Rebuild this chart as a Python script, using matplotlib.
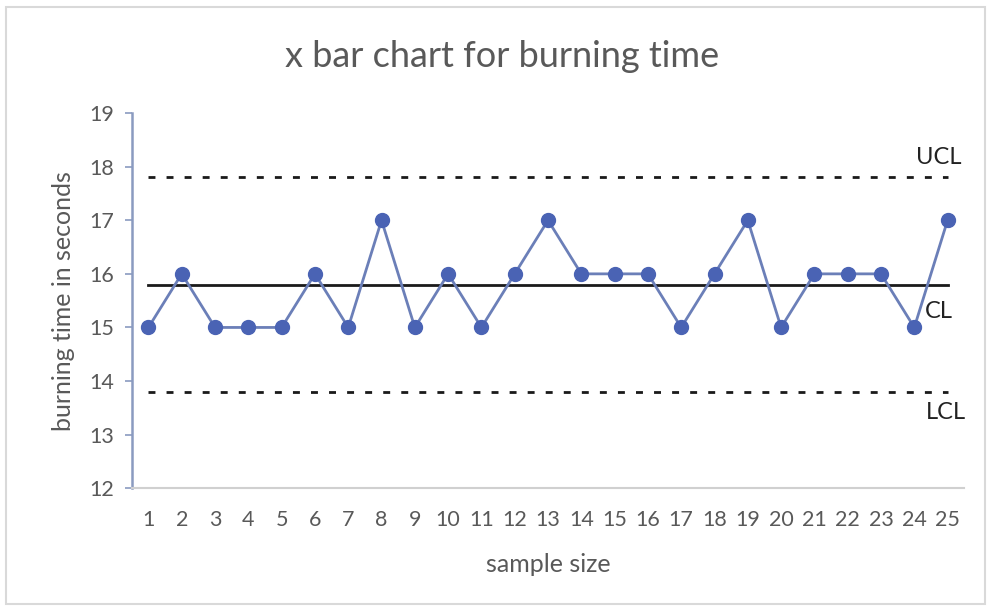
import matplotlib.pyplot as plt
import numpy as np

plt.rcParams['font.family'] = ['Lato', 'DejaVu Sans']

samples = list(range(1, 26))
burn_time = [15, 16, 15, 15, 15, 16, 15, 17, 15, 16, 15, 16, 17,
             16, 16, 16, 15, 16, 17, 15, 16, 16, 16, 15, 17]
ucl, cl, lcl = 17.8, 15.8, 13.8
y_ticks = [12, 13, 14, 15, 16, 17, 18, 19]

fig = plt.figure(figsize=(9.91, 6.08), dpi=100)
ax = fig.add_axes([0.133, 0.197, 0.840, 0.617])

# chart area border
fig.patches.append(plt.Rectangle((0.006, 0.006), 0.988, 0.982, transform=fig.transFigure,
                                 fill=False, edgecolor='#d9d9d9', linewidth=1.5))

ax.plot(samples, [ucl] * 25, color='#1a1a1a', linestyle=(0, (2.5, 4)), linewidth=2)
ax.plot(samples, [cl] * 25, color='#1a1a1a', linewidth=2)
ax.plot(samples, [lcl] * 25, color='#1a1a1a', linestyle=(0, (2.5, 4)), linewidth=2)
ax.plot(samples, burn_time, '-o', color='#6b7fb8', linewidth=2,
        markersize=10, markerfacecolor='#4a63b4', markeredgecolor='#4a63b4')

ax.text(24.73, 18.18, 'UCL', ha='center', va='center', fontsize=17, color='#222222')
ax.text(24.75, 15.3, 'CL', ha='center', va='center', fontsize=17, color='#222222')
ax.text(24.95, 13.42, 'LCL', ha='center', va='center', fontsize=17, color='#222222')

ax.set_xlim(0.5, 25.5)
ax.set_ylim(12, 19)
ax.set_yticks(y_ticks)
ax.set_xticks(samples)
ax.tick_params(axis='both', labelsize=15.5, labelcolor='#595959')
ax.tick_params(axis='y', color='#8a9bc0', length=5, width=1.2, pad=8)
ax.tick_params(axis='x', length=0, pad=16)

for s in ['top', 'right']:
    ax.spines[s].set_visible(False)
ax.spines['left'].set_color('#8a9bc0')
ax.spines['left'].set_linewidth(1.8)
ax.spines['bottom'].set_color('#d0d0d0')
ax.spines['bottom'].set_linewidth(1.5)

ax.set_title('x bar chart for burning time', fontsize=26, color='#595959', pad=33, x=0.445)
ax.set_xlabel('sample size', fontsize=18, color='#595959', labelpad=16)
ax.set_ylabel('burning time in seconds', fontsize=18, color='#595959', labelpad=10)

plt.savefig('out.png', dpi=100)
